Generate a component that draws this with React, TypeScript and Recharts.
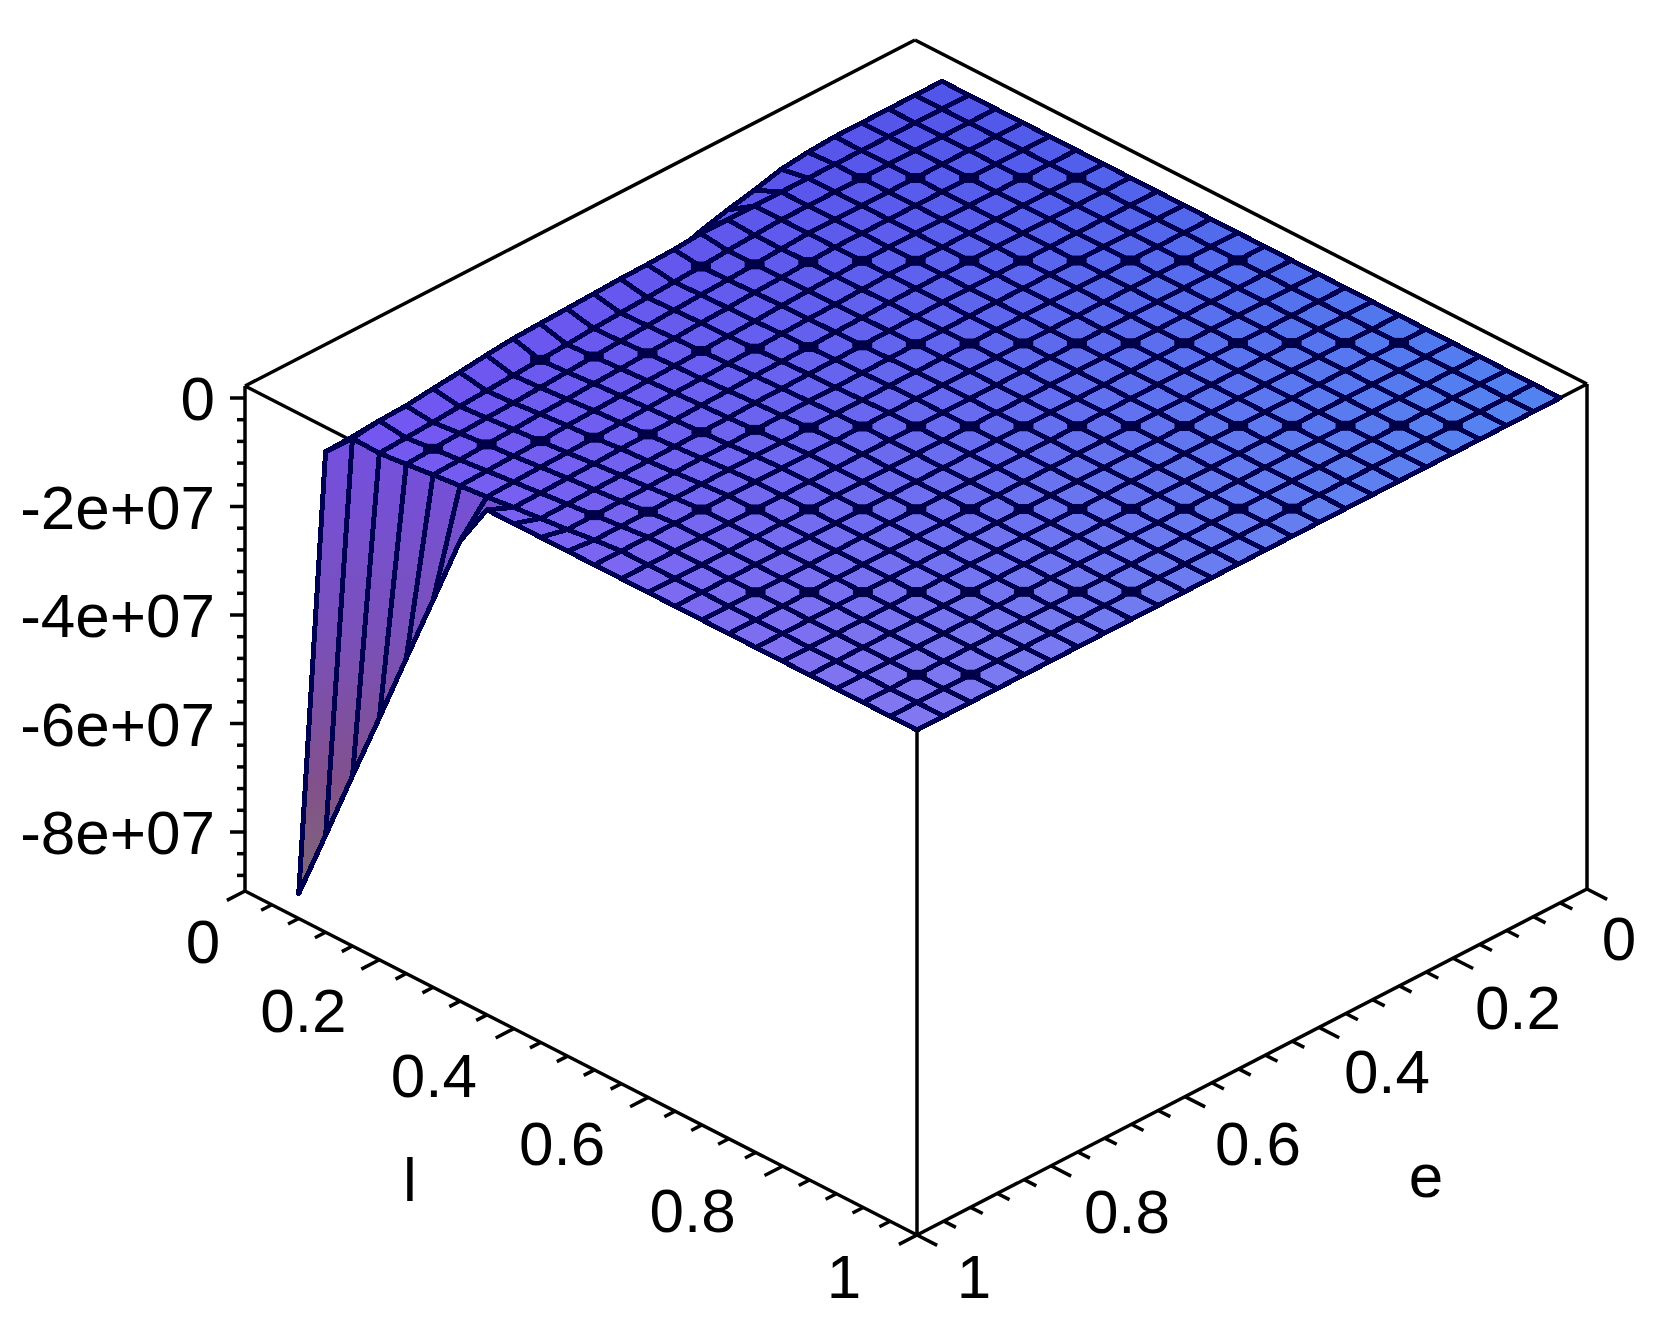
import { ScatterChart, Scatter, XAxis, YAxis } from 'recharts'

const WIDTH = 1659
const HEIGHT = 1327

// sample grid of the surface
const lValues = [0.08, 0.12, 0.16, 0.2, 0.24, 0.28, 0.32, 0.36, 0.4, 0.44, 0.48, 0.52, 0.56, 0.6, 0.64, 0.68, 0.72, 0.76, 0.8, 0.84, 0.88, 0.92, 0.96, 1]
const eValues = [0.04, 0.08, 0.12, 0.16, 0.2, 0.24, 0.28, 0.32, 0.36, 0.4, 0.44, 0.48, 0.52, 0.56, 0.6, 0.64, 0.68, 0.72, 0.76, 0.8, 0.84, 0.88, 0.92, 0.96, 1]

// z in millions, one row per l. Rows hold the last values
// of e only, whatever comes before them (and all later rows) is flat at 0
const zRows = [
  [0, 0, 0, 0, 0, -0.3, -0.9, -2.2, -3.3, -4.6, -6.3, -6.3, -6.5, -6.6, -6.8, -7, -7.2, -7.4, -7.9, -8.5, -8.8, -9.2, -9.4, -9.6, -88.5],
  [-0.4, -0.6, -0.7, -0.9, -1.1, -1.3, -1.5, -2, -2.6, -3.1, -3.7, -3.9, -4.6, -75.2],
  [-0.3, -0.6, -1, -1.3, -1.6, -1.9, -2.2, -2.6, -2.9, -3.2, -3.5, -3.8, -4.2, -4.5, -4.8, -61.7],
  [-0.3, -0.6, -0.9, -1.1, -1.4, -1.7, -2, -2.3, -2.6, -2.9, -3.2, -3.4, -3.7, -4, -4.3, -48.5],
  [-0.2, -0.5, -0.7, -1, -1.2, -1.5, -1.7, -2, -2.2, -2.5, -2.7, -3, -3.2, -3.5, -3.7, -35],
  [-0.2, -0.4, -0.6, -0.9, -1.1, -1.3, -1.5, -1.7, -1.9, -2.1, -2.3, -2.6, -2.8, -3, -3.2, -21.7],
  [-0.2, -0.4, -0.5, -0.7, -0.9, -1.1, -1.3, -1.4, -1.6, -1.8, -2, -2.2, -2.3, -2.5, -2.7, -8.3],
  [-0.1, -0.3, -0.4, -0.6, -0.7, -0.8, -1, -1.1, -1.3, -1.4, -1.5, -1.7, -1.8, -2, -2.1, 0],
  [-0.1, -0.2, -0.3, -0.4, -0.5, -0.6, -0.7, -0.9, -1, -1.1, -1.2, -1.3, -1.4, -1.5, -1.6, 0],
  [-0.1, -0.1, -0.2, -0.3, -0.4, -0.4, -0.5, -0.6, -0.7, -0.7, -0.8, -0.9, -1, -1, -1.1, 0],
  [0, -0.1, -0.1, -0.1, -0.2, -0.2, -0.2, -0.3, -0.3, -0.3, -0.4, -0.4, -0.4, -0.5, -0.5, 0],
]

const zTicks = [0, -4e6, -8e6, -1.2e7, -1.6e7, -2e7, -2.4e7, -2.8e7, -3.2e7, -3.6e7, -4e7, -4.4e7, -4.8e7, -5.2e7, -5.6e7, -6e7, -6.4e7, -6.8e7, -7.2e7, -7.6e7, -8e7, -8.4e7, -8.8e7]
const zMajorLabels: Record<number, string> = { 0: '0', [-2e7]: '-2e+07', [-4e7]: '-4e+07', [-6e7]: '-6e+07', [-8e7]: '-8e+07' }

const axisTicks = [0, 0.04, 0.08, 0.12, 0.16, 0.2, 0.24, 0.28, 0.32, 0.36, 0.4, 0.44, 0.48, 0.52, 0.56, 0.6, 0.64, 0.68, 0.72, 0.76, 0.8, 0.84, 0.88, 0.92, 0.96, 1]
const axisLabels = ['0', '0.2', '0.4', '0.6', '0.8', '1']
const axisLabelValues = [0, 0.2, 0.4, 0.6, 0.8, 1]

// where the labels sit relative to their tick on the axis
const lLabelDx = [-42, -76, -80, -86, -90, -73]
const lLabelDy = [50, 50, 46, 46, 44, 41]
const eLabelDx = [32, 65, 68, 73, 76, 57]
const eLabelDy = [49, 49, 44, 46, 45, 41]

const PX_PER_Z = 108.5 / 2e7
const BOX_BOTTOM = -505 / PX_PER_Z
const Z_AXIS_X = 245

const project = (l: number, e: number, z = 0) => ({
  x: 915 + 672 * l - 670 * e,
  y: 40 + 344 * l + 346 * e - z * PX_PER_Z,
})

const surfaceZ = (i: number, j: number) => {
  const row = zRows[i]
  if (!row) return 0
  const k = j - (eValues.length - row.length)
  return k >= 0 ? row[k] * 1e6 : 0
}

type RGB = [number, number, number]
const BACK: RGB = [80, 80, 232]
const LEFT: RGB = [116, 82, 242]
const FRONT: RGB = [130, 120, 240]
const RIGHT: RGB = [79, 132, 240]

const mix = (a: RGB, b: RGB, t: number): RGB => [0, 1, 2].map((k) => a[k] + (b[k] - a[k]) * t) as RGB

const cellColor = (l: number, e: number) => {
  const c = mix(mix(BACK, RIGHT, l), mix(LEFT, FRONT, l), e)
  return `rgb(${c.map(Math.round).join(',')})`
}

// back to front so nearer cells paint over farther ones
const cells = lValues
  .slice(0, -1)
  .flatMap((l, i) =>
    eValues.slice(0, -1).map((e, j) => {
      const idx: [number, number][] = [[i, j], [i + 1, j], [i + 1, j + 1], [i, j + 1]]
      const zs = idx.map(([a, b]) => surfaceZ(a, b))
      const corners = idx.map(([a, b], k) => project(lValues[a], eValues[b], zs[k]))
      const isWall = Math.min(...zs) < -5e6 && j === eValues.length - 2
      return { ...corners[0], corners, order: l + e, fill: isWall ? 'url(#wallShade)' : cellColor(l + 0.02, e + 0.02) }
    }),
  )
  .sort((a, b) => a.order - b.order)

// the picture's low resolution clumps the mesh crossings: all of them get a small
// dark knot, every sixth row (and part of a weaker row two before it) a bigger blob
const crossings = lValues.flatMap((l, i) =>
  eValues.flatMap((e, j) => {
    if (i < 2 || j < 1 || j > eValues.length - 3 || i === lValues.length - 1) return []
    const n = i + j + 3
    const strong = n % 6 === 4
    const weak = n % 6 === 2 && (i - j + 200) % 4 === 0
    return [{ ...project(l, e, surfaceZ(i, j)), w: strong || weak ? 20 : 12, h: strong || weak ? 10 : 6 }]
  }),
)

const lTickMarks = axisTicks.map((l, i) => {
  const from = project(l, 1, BOX_BOTTOM)
  const to = project(l, i % 5 === 0 ? 1.027 : 1.016, BOX_BOTTOM)
  return { ...from, dx: to.x - from.x, dy: to.y - from.y }
})
const eTickMarks = axisTicks.map((e, i) => {
  const from = project(1, e, BOX_BOTTOM)
  const to = project(i % 5 === 0 ? 1.03 : 1.018, e, BOX_BOTTOM)
  return { ...from, dx: to.x - from.x, dy: to.y - from.y }
})

const lLabels = axisLabelValues.map((l, i) => {
  const p = project(l, 1, BOX_BOTTOM)
  return { x: p.x + lLabelDx[i], y: p.y + lLabelDy[i], text: axisLabels[i] }
})
const eLabels = axisLabelValues.map((e, i) => {
  const p = project(1, e, BOX_BOTTOM)
  return { x: p.x + eLabelDx[i], y: p.y + eLabelDy[i], text: axisLabels[i] }
})
const axisNames = [
  { x: 410, y: 1201, text: 'l' },
  { x: 1426, y: 1197, text: 'e' },
]

// only there so the z axis has something to work its domain out from
const zAnchors = zTicks.map((z) => ({ x: Z_AXIS_X, z }))

const FONT = '"Liberation Sans", Arial, sans-serif'
const FONT_SIZE = 62
const DIGIT_SHIFT = 22
const BOX_STROKE = 3.5

const hiddenEdges = [
  [project(0, 1), project(0, 0)],
  [project(0, 0), project(1, 0)],
  [project(0, 1), project(1, 1)],
  [project(1, 0), project(1, 1)],
]
const frontEdges = [
  [project(1, 1), project(1, 1, BOX_BOTTOM)],
  [project(0, 1), project(0, 1, BOX_BOTTOM)],
  [project(1, 0), project(1, 0, BOX_BOTTOM)],
  [project(0, 1, BOX_BOTTOM), project(1, 1, BOX_BOTTOM)],
  [project(1, 0, BOX_BOTTOM), project(1, 1, BOX_BOTTOM)],
]

const CellShape = (props: any) => {
  const { cx, cy, payload } = props
  const pts = payload.corners.map((c: any) => `${cx + c.x - payload.x},${cy + c.y - payload.y}`).join(' ')
  return <polygon points={pts} fill={payload.fill} stroke="#000050" strokeWidth={5} strokeLinejoin="round" shapeRendering="crispEdges" />
}

const KnotShape = (props: any) => {
  const { cx, cy, payload } = props
  return <rect x={cx - payload.w / 2} y={cy - payload.h / 2} width={payload.w} height={payload.h} fill="#000048" />
}

const TickShape = (props: any) => {
  const { cx, cy, payload } = props
  return <line x1={cx} y1={cy} x2={cx + payload.dx} y2={cy + payload.dy} stroke="#000" strokeWidth={BOX_STROKE} />
}

const LabelShape = (props: any) => (
  <text x={props.cx} y={props.cy + DIGIT_SHIFT} textAnchor="middle" fontFamily={FONT} fontSize={FONT_SIZE} fill="#000">
    {props.payload.text}
  </text>
)

const NameShape = (props: any) => (
  <text x={props.cx} y={props.cy} textAnchor="middle" fontFamily={FONT} fontSize={FONT_SIZE} fill="#000">
    {props.payload.text}
  </text>
)

const ZTick = (props: any) => {
  const { y, payload } = props
  const label = zMajorLabels[payload.value]
  return (
    <g>
      <line x1={Z_AXIS_X} y1={y} x2={Z_AXIS_X - (label ? 15 : 8)} y2={y} stroke="#000" strokeWidth={BOX_STROKE} />
      {label && (
        <text x={215} y={y + DIGIT_SHIFT} textAnchor="end" fontFamily={FONT} fontSize={FONT_SIZE} fill="#000">
          {label}
        </text>
      )}
    </g>
  )
}

const NoDot = () => <g />

const Edge = (points: { x: number; y: number }[], key: string) => (
  <Scatter
    key={key}
    xAxisId="px"
    yAxisId="px"
    data={points}
    line={{ stroke: '#000', strokeWidth: BOX_STROKE }}
    shape={NoDot}
    isAnimationActive={false}
  />
)

export default function App() {
  return (
    <div style={{ position: 'absolute', left: 0, top: 0, width: WIDTH, height: HEIGHT, background: '#fff' }}>
      <ScatterChart width={WIDTH} height={HEIGHT} margin={{ top: 0, right: 0, bottom: 0, left: 0 }}>
        <defs>
          <linearGradient id="wallShade" gradientUnits="userSpaceOnUse" x1="0" y1="440" x2="0" y2="895">
            <stop offset="0%" stopColor="#7450e0" />
            <stop offset="45%" stopColor="#7a50b8" />
            <stop offset="75%" stopColor="#82508c" />
            <stop offset="100%" stopColor="#7c6a74" />
          </linearGradient>
        </defs>
        <XAxis xAxisId="px" dataKey="x" type="number" domain={[0, WIDTH]} hide />
        <YAxis yAxisId="px" dataKey="y" type="number" domain={[0, HEIGHT]} reversed hide />
        <YAxis
          yAxisId="z"
          dataKey="z"
          type="number"
          mirror
          width={60}
          domain={[-(HEIGHT - 398) / PX_PER_Z, 398 / PX_PER_Z]}
          ticks={zTicks}
          interval={0}
          axisLine={false}
          tickLine={false}
          tickSize={0}
          tick={<ZTick />}
        />
        <Scatter xAxisId="px" yAxisId="z" data={zAnchors} shape={NoDot} isAnimationActive={false} />
        {hiddenEdges.map((pts, i) => Edge(pts, `back-${i}`))}
        <Scatter xAxisId="px" yAxisId="px" data={cells} shape={<CellShape />} isAnimationActive={false} />
        <Scatter xAxisId="px" yAxisId="px" data={crossings} shape={<KnotShape />} isAnimationActive={false} />
        {frontEdges.map((pts, i) => Edge(pts, `front-${i}`))}
        <Scatter xAxisId="px" yAxisId="px" data={lTickMarks} shape={<TickShape />} isAnimationActive={false} />
        <Scatter xAxisId="px" yAxisId="px" data={eTickMarks} shape={<TickShape />} isAnimationActive={false} />
        <Scatter xAxisId="px" yAxisId="px" data={lLabels} shape={<LabelShape />} isAnimationActive={false} />
        <Scatter xAxisId="px" yAxisId="px" data={eLabels} shape={<LabelShape />} isAnimationActive={false} />
        <Scatter xAxisId="px" yAxisId="px" data={axisNames} shape={<NameShape />} isAnimationActive={false} />
      </ScatterChart>
    </div>
  )
}
